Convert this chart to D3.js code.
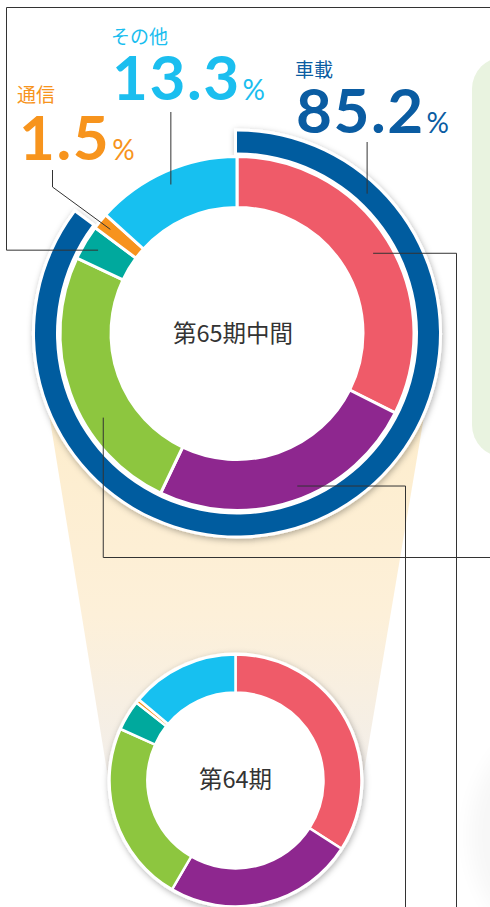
<!DOCTYPE html>
<html lang="ja">
<head>
<meta charset="utf-8">
<script src="https://cdn.jsdelivr.net/npm/d3@7"></script>
<style>
  body { margin: 0; background: #fff; }
  svg { display: block; }
</style>
</head>
<body>
<svg id="chart"></svg>
<script>
// データ
const segments = ['車載1', '車載2', '車載3', '車載4', '通信', 'その他'];
const colors = ['#ef5b69', '#8e278f', '#8dc63f', '#00a99d', '#f7931e', '#17c0f0'];
const values65 = [32.4, 24.7, 24.9, 3.2, 1.5, 13.3];
const values64 = [34.1, 24.3, 23.3, 3.9, 0.5, 13.9];
const ringValue = 85.2;                 // 車載 合計
const labelNames = ['車載', 'その他', '通信'];
const labelValues = [85.2, 13.3, 1.5];
const labelColors = ['#0a5ca2', '#1bbeef', '#f7941d'];
const centerTexts = ['第65期中間', '第64期'];

class DonutFigure {
    constructor (config) {
        this.config = {
            parent: config.parent,
            width: config.width || 490,
            height: config.height || 907
        };
        this.init();
    }

    init() {
        let self = this;

        self.svg = d3.select(self.config.parent)
            .attr('width', self.config.width)
            .attr('height', self.config.height);

        self.angle = d3.scaleLinear()
            .domain([0, 100])
            .range([0, 2 * Math.PI]);

        self.pie = d3.pie().sort(null).value(d => d);

        // 大きい円 / 小さい円
        self.big = {cx: 237, cy: 333.5, r0: 126, r1: 177, ring0: 181, ring1: 202};
        self.small = {cx: 235.5, cy: 780.5, r0: 88, r1: 126};

        const defs = self.svg.append('defs');
        const shadow = defs.append('filter').attr('id', 'shadow')
            .attr('x', '-20%').attr('y', '-20%').attr('width', '140%').attr('height', '140%');
        shadow.append('feDropShadow')
            .attr('dx', 1).attr('dy', 2).attr('stdDeviation', 3)
            .attr('flood-color', '#000').attr('flood-opacity', 0.3);

        const soft = defs.append('filter').attr('id', 'soft')
            .attr('x', '-50%').attr('y', '-50%').attr('width', '200%').attr('height', '200%');
        soft.append('feGaussianBlur').attr('stdDeviation', 10);

        const grad = defs.append('linearGradient').attr('id', 'beige')
            .attr('gradientUnits', 'userSpaceOnUse')
            .attr('x1', 0).attr('y1', 420).attr('x2', 0).attr('y2', 775);
        grad.append('stop').attr('offset', 0).attr('stop-color', '#fdedcd');
        grad.append('stop').attr('offset', 0.55).attr('stop-color', '#fdf0d9');
        grad.append('stop').attr('offset', 1).attr('stop-color', '#f2eeea');
    }

    render() {
        let self = this;
        const b = self.big, s = self.small;

        // 右側の背景パネル
        self.svg.append('rect')
            .attr('x', 472).attr('y', 57)
            .attr('width', 80).attr('height', 400)
            .attr('rx', 32)
            .attr('fill', '#e9f3e0');

        // 右下の影
        self.svg.append('circle')
            .attr('cx', 600).attr('cy', 835).attr('r', 130)
            .attr('fill', '#000').attr('opacity', 0.03)
            .attr('filter', 'url(#soft)');

        // ベージュの台形
        self.svg.append('path')
            .attr('d', d3.line()([
                [b.cx - b.ring1 + 1, b.cy], [b.cx + b.ring1 - 1, b.cy],
                [s.cx + s.r1 + 1, s.cy], [s.cx - s.r1 - 1, s.cy]
            ]) + 'Z')
            .attr('fill', 'url(#beige)');

        // 大きい円の白い下地
        self.svg.append('circle')
            .attr('cx', b.cx).attr('cy', b.cy).attr('r', b.ring0 + 1)
            .attr('fill', '#fff');

        // 外側リング（車載）
        const ringArc = d3.arc()
            .innerRadius(b.ring0).outerRadius(b.ring1)
            .startAngle(0).endAngle(self.angle(ringValue));
        self.svg.append('path')
            .attr('transform', `translate(${b.cx}, ${b.cy})`)
            .attr('d', ringArc())
            .attr('fill', '#035b9f')
            .attr('stroke', '#fff').attr('stroke-width', 6)
            .style('paint-order', 'stroke')
            .attr('filter', 'url(#shadow)');

        self.donut(values65, b, 3);

        // 小さい円の白い縁
        self.svg.append('circle')
            .attr('cx', s.cx).attr('cy', s.cy).attr('r', s.r1 + 2)
            .attr('fill', '#fff')
            .attr('filter', 'url(#shadow)');
        self.donut(values64, s, 2.5);

        // 中央テキスト
        self.svg.append('text')
            .attr('x', b.cx - 4).attr('y', b.cy + 8)
            .attr('text-anchor', 'middle')
            .style('font-family', '"Noto Sans CJK JP", sans-serif')
            .style('font-size', '23.5px')
            .attr('fill', '#333')
            .text(centerTexts[0]);
        self.svg.append('text')
            .attr('x', s.cx).attr('y', s.cy + 7)
            .attr('text-anchor', 'middle')
            .style('font-family', '"Noto Sans CJK JP", sans-serif')
            .style('font-size', '23.5px')
            .attr('fill', '#333')
            .text(centerTexts[1]);

        // 引き出し線
        const arcs = self.pie(values65);
        const at = (a, r) => {
            const p = d3.pointRadial(a, r);
            return [b.cx + p[0], b.cy + p[1]];
        };
        const segPoint = (i, t, r) => at(arcs[i].startAngle + t * (arcs[i].endAngle - arcs[i].startAngle), r);

        const leaders = [];
        let p = segPoint(0, 0.51, 158);
        leaders.push([p, [456.5, p[1]], [456.5, 907]]);
        p = segPoint(1, 0.47, 164);
        leaders.push([p, [405.5, p[1]], [405.5, 907]]);
        p = segPoint(2, 0.36, 158);
        leaders.push([p, [p[0], 557.5], [490, 557.5]]);
        p = segPoint(3, 0.5, 162);
        leaders.push([p, [6.5, p[1]], [6.5, 7.5], [490, 7.5]]);
        p = segPoint(4, 0.5, 164);
        leaders.push([p, [52.5, 187], [52.5, 170]]);
        p = segPoint(5, 0.5, 163);
        leaders.push([p, [p[0], 112]]);
        p = at(self.angle(ringValue) * 0.14, 191);
        leaders.push([p, [p[0], 142]]);

        self.svg.append('g')
            .selectAll('path')
            .data(leaders)
            .join('path')
            .attr('d', d3.line())
            .attr('fill', 'none')
            .attr('stroke', '#333')
            .attr('stroke-width', 1);

        // ラベル
        const labelPos = [
            {x: 295, y: 77, nx: 296, ny: 133},
            {x: 111, y: 44, nx: 112, ny: 100},
            {x: 17, y: 102, nx: 19, ny: 160}
        ];
        const lab = self.svg.append('g')
            .selectAll('g')
            .data(labelNames)
            .join('g');
        lab.append('text')
            .attr('x', (d, i) => labelPos[i].x)
            .attr('y', (d, i) => labelPos[i].y)
            .style('font-family', '"Noto Sans CJK JP", sans-serif')
            .style('font-size', '19px')
            .attr('fill', (d, i) => labelColors[i])
            .text(d => d);
        const num = lab.append('text')
            .attr('x', (d, i) => labelPos[i].nx)
            .attr('y', (d, i) => labelPos[i].ny)
            .style('font-family', 'Lato, sans-serif')
            .attr('fill', (d, i) => labelColors[i]);
        num.append('tspan')
            .style('font-size', '62px')
            .style('font-weight', 700)
            .style('letter-spacing', '1.5px')
            .text((d, i) => labelValues[i].toFixed(1));
        num.append('tspan')
            .attr('dx', 2)
            .style('font-size', '28px')
            .text('%');
    }

    donut(values, c, sw) {
        let self = this;
        const arc = d3.arc().innerRadius(c.r0).outerRadius(c.r1);
        self.svg.append('g')
            .attr('transform', `translate(${c.cx}, ${c.cy})`)
            .selectAll('path')
            .data(self.pie(values))
            .join('path')
            .attr('d', arc)
            .attr('fill', (d, i) => colors[i])
            .attr('stroke', '#fff')
            .attr('stroke-width', sw)
            .attr('stroke-linejoin', 'miter');
    }
}

const chart = new DonutFigure({parent: '#chart', width: 490, height: 907});
chart.render();
</script>
</body>
</html>
